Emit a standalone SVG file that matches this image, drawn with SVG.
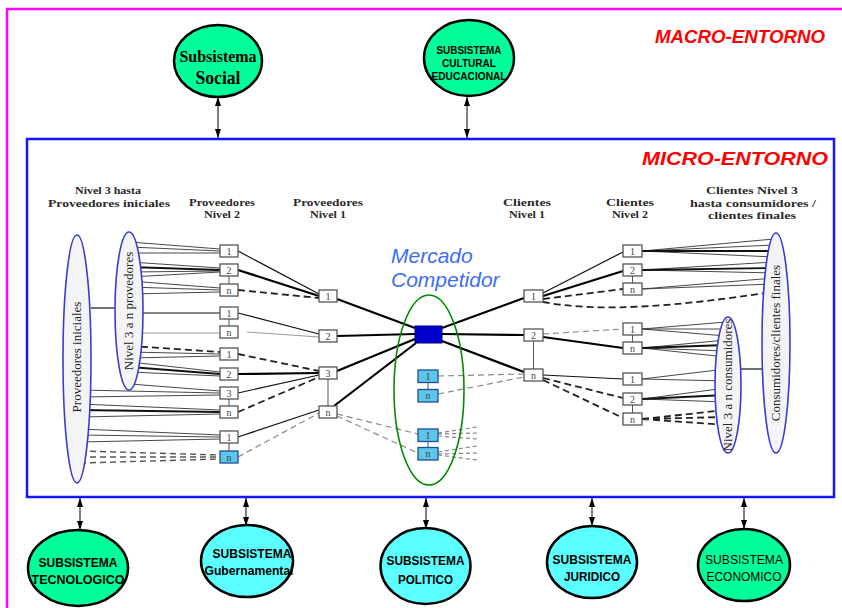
<svg xmlns="http://www.w3.org/2000/svg" width="842" height="608" viewBox="0 0 842 608">
<defs>
  <marker id="ah" viewBox="0 0 9 6" refX="9" refY="3" markerWidth="9" markerHeight="6" markerUnits="userSpaceOnUse" orient="auto-start-reverse" preserveAspectRatio="none">
    <path d="M0,0 L9,3 L0,6 z" fill="#000"/>
  </marker>
  <style>
    .bg { fill:#00ff99; stroke:#000; stroke-width:2.5; }
    .bc { fill:#5cffff; stroke:#000; stroke-width:2.5; }
    .bt { font-family:"Liberation Sans", Arial, sans-serif; font-weight:bold; text-anchor:middle; fill:#000; }
    .bs { font-family:"Liberation Serif", "Times New Roman", serif; font-weight:bold; text-anchor:middle; fill:#000; }
    .arr { stroke:#000; stroke-width:1; fill:none; marker-start:url(#ah); marker-end:url(#ah); }
    .hd { font-family:"Liberation Serif", "Times New Roman", serif; font-weight:bold; font-size:11px; text-anchor:middle; fill:#2a2a2a; }
    .el { fill:#f4f4f7; stroke:#3b3bd0; stroke-width:1.6; }
    .et { font-family:"Liberation Serif", "Times New Roman", serif; font-size:13px; text-anchor:middle; fill:#222; }
    .nd { fill:#fff; stroke:#555; stroke-width:1.3; }
    .nb { fill:#5cc6ec; stroke:#1f4f8f; stroke-width:1.3; }
    .nt { font-family:"Liberation Serif", "Times New Roman", serif; font-size:10px; text-anchor:middle; fill:#444; }
    .f { stroke:#333; stroke-width:0.9; fill:none; }
    .fk { stroke:#111; stroke-width:1.8; fill:none; }
    .s { stroke:#111; stroke-width:1.2; fill:none; }
    .k { stroke:#000; stroke-width:2.2; fill:none; }
    .g { stroke:#999; stroke-width:1; fill:none; }
    .d { stroke:#222; stroke-width:1.8; stroke-dasharray:7 4; fill:none; }
    .dm { stroke:#555; stroke-width:1.4; stroke-dasharray:6 4; fill:none; }
    .dg { stroke:#888; stroke-width:1.2; stroke-dasharray:6 4; fill:none; }
    .ds { stroke:#888; stroke-width:1.2; stroke-dasharray:4 3; fill:none; }
    .v { stroke:#555; stroke-width:1; }
  </style>
</defs>
<rect width="842" height="608" fill="#fff"/>

<!-- environment frames -->
<g id="macro-entorno">
  <path d="M7,612 L7,9 L850,9" fill="none" stroke="#ff00ff" stroke-width="2.5"/>
  <text x="740" y="43" font-family="Liberation Sans, Arial, sans-serif" font-weight="bold" font-style="italic" font-size="18" fill="#ff0000" text-anchor="middle" textLength="170" lengthAdjust="spacingAndGlyphs">MACRO-ENTORNO</text>
</g>
<g id="micro-entorno">
  <rect x="27" y="139" width="807" height="358" fill="none" stroke="#1414ff" stroke-width="2.5"/>
  <text x="735" y="165" font-family="Liberation Sans, Arial, sans-serif" font-weight="bold" font-style="italic" font-size="18" fill="#ff0000" text-anchor="middle" textLength="186" lengthAdjust="spacingAndGlyphs">MICRO-ENTORNO</text>
</g>

<!-- column headings -->
<g id="headings">
  <text class="hd" x="108" y="194" textLength="66" lengthAdjust="spacingAndGlyphs">Nivel 3 hasta</text>
  <text class="hd" x="109" y="206.5" textLength="122" lengthAdjust="spacingAndGlyphs">Proveedores iniciales</text>
  <text class="hd" x="222" y="205.5" textLength="66" lengthAdjust="spacingAndGlyphs">Proveedores</text>
  <text class="hd" x="222" y="218" textLength="36" lengthAdjust="spacingAndGlyphs">Nivel 2</text>
  <text class="hd" x="328" y="205.5" textLength="70" lengthAdjust="spacingAndGlyphs">Proveedores</text>
  <text class="hd" x="328" y="218" textLength="36" lengthAdjust="spacingAndGlyphs">Nivel 1</text>
  <text class="hd" x="527" y="205.5" textLength="48" lengthAdjust="spacingAndGlyphs">Clientes</text>
  <text class="hd" x="527" y="218" textLength="36" lengthAdjust="spacingAndGlyphs">Nivel 1</text>
  <text class="hd" x="630" y="205.5" textLength="48" lengthAdjust="spacingAndGlyphs">Clientes</text>
  <text class="hd" x="630" y="218" textLength="36" lengthAdjust="spacingAndGlyphs">Nivel 2</text>
  <text class="hd" x="752" y="194" textLength="92" lengthAdjust="spacingAndGlyphs">Clientes Nivel 3</text>
  <text class="hd" x="753" y="206.5" textLength="126" lengthAdjust="spacingAndGlyphs">hasta consumidores /</text>
  <text class="hd" x="752" y="219" textLength="88" lengthAdjust="spacingAndGlyphs">clientes finales</text>
</g>

<g id="mercado-label">
  <text x="391" y="263" font-family="Liberation Sans, Arial, sans-serif" font-style="italic" font-size="21" fill="#3d6df2">Mercado</text>
  <text x="391" y="287" font-family="Liberation Sans, Arial, sans-serif" font-style="italic" font-size="21" fill="#3d6df2">Competidor</text>
</g>

<!-- connectors -->
<g id="connectors">
  <!-- subsystem links -->
  <line class="arr" x1="218" y1="97" x2="218" y2="138"/>
  <line class="arr" x1="467" y1="97" x2="467" y2="138"/>
  <line class="arr" x1="80" y1="498" x2="80" y2="530"/>
  <line class="arr" x1="246" y1="498" x2="246" y2="526"/>
  <line class="arr" x1="426" y1="498" x2="426" y2="529"/>
  <line class="arr" x1="592" y1="498" x2="592" y2="526"/>
  <line class="arr" x1="744" y1="498" x2="744" y2="529"/>

  <!-- initial suppliers to level 2 -->
  <path class="f" d="M130,242 L220,249 M130,247 L220,251 M130,253 L220,253"/>
  <path class="f" d="M130,262 L220,268 M130,272 L220,271 M130,277 L220,272"/>
  <path class="fk" d="M130,267 L220,270"/>
  <path class="f" d="M130,281 L220,288 M130,287 L220,290 M130,294 L220,292"/>
  <path class="s" d="M130,313 L220,313"/>
  <path class="g" d="M130,333 L220,333"/>
  <path class="d" d="M130,346 L220,352"/>
  <path class="f" d="M130,352 L220,354 M130,358 L220,356"/>
  <path class="f" d="M130,362 L220,372 M130,372 L220,376"/>
  <path class="fk" d="M130,367 L220,374"/>
  <path class="f" d="M130,384 L220,391 M80,390 L220,393 M80,397 L220,395"/>
  <path class="f" d="M80,404 L220,410 M80,417 L220,414"/>
  <path class="fk" d="M80,410 L220,412"/>
  <path class="f" d="M80,429 L220,435 M80,435 L220,437 M80,442 L220,439"/>
  <path class="dm" d="M80,451 L220,455 M80,457 L220,457 M80,463 L220,459"/>
  <path class="s" d="M91,308 L115,308"/>

  <!-- level 2 to level 1 suppliers -->
  <path class="s" d="M238,251 L319,294"/>
  <path class="k" d="M238,270 L319,296"/>
  <path class="d" d="M238,290 L319,298"/>
  <path class="s" d="M238,313 L319,334"/>
  <path class="g" d="M247,332 L319,337"/>
  <path class="d" d="M238,354 L319,371"/>
  <path class="k" d="M238,374 L319,373"/>
  <path class="s" d="M238,393 L319,375"/>
  <path class="d" d="M238,412 L319,377"/>
  <path class="s" d="M238,437 L319,410"/>
  <path class="dg" d="M238,457 L319,413"/>

  <!-- level 1 suppliers to the company -->
  <path class="k" d="M337,299 L415,328"/>
  <path class="k" d="M337,336 L415,334" stroke-width="2.6"/>
  <path class="k" d="M337,371 L415,339"/>
  <path class="k" d="M334,406 L416,343"/>

  <!-- competitor links -->
  <path class="dg" d="M337,414 L418,434 M337,416 L418,453"/>
  <path class="dg" d="M438,376 L524,374 M438,394 L524,377"/>
  <path class="ds" d="M438,433 L477,427 M438,434 L477,433 M438,436 L477,439"/>
  <path class="ds" d="M438,452 L477,446 M438,454 L477,453 M438,455 L477,460"/>

  <!-- company to level 1 clients -->
  <path class="k" d="M442,328 L524,298"/>
  <path class="k" d="M442,334 L524,335" stroke-width="4"/>
  <path class="k" d="M442,341 L524,372"/>

  <!-- level 1 to level 2 clients -->
  <path class="s" d="M543,293 L623,252"/>
  <path class="k" d="M543,296 L623,271" stroke-width="1.8"/>
  <path class="d" d="M543,299 L623,289"/>
  <path class="d" d="M543,302 C600,313 680,306 772,292"/>
  <path class="dg" d="M543,334 L623,329"/>
  <path class="k" d="M543,337 L623,348" stroke-width="1.8"/>
  <path class="s" d="M543,375 L623,379"/>
  <path class="d" d="M543,378 L623,398 M543,380 L623,418"/>

  <!-- level 2 clients to final consumers -->
  <path class="f" d="M642,251 L774,239 M642,251 L774,245 M642,251 L774,257"/>
  <path class="fk" d="M642,251 L774,251"/>
  <path class="f" d="M642,270 L774,262 M642,270 L774,273"/>
  <path class="fk" d="M642,270 L774,268"/>
  <path class="f" d="M642,289 L774,278 M642,289 L774,284"/>
  <path class="f" d="M642,329 L726,322 M642,329 L726,329 M642,329 L726,336"/>
  <path class="f" d="M642,348 L726,340 M642,348 L726,351 M642,348 L726,357"/>
  <path class="fk" d="M642,348 L726,345"/>
  <path class="f" d="M642,379 L726,369 M642,379 L726,381"/>
  <path class="f" d="M642,399 L726,388 M642,399 L726,402"/>
  <path class="fk" d="M642,399 L726,395"/>
  <path class="d" d="M642,419 L726,410 M642,419 L726,417 M642,419 L726,425"/>
  <path class="s" d="M741,369 L762,369"/>

  <!-- links inside node stacks -->
  <path class="v" d="M229,276 L229,284 M229,319 L229,326 M229,399 L229,406 M328,379 L328,406 M533.5,341 L533.5,369 M632.5,276 L632.5,283 M632.5,335 L632.5,342 M632.5,405 L632.5,413 M428,382.5 L428,389.5 M428,441.5 L428,447.5"/>
  <path d="M229,443 L229,451" stroke="#a04848" stroke-width="1.2"/>
</g>

<!-- stakeholder groups -->
<g id="proveedores-iniciales">
  <ellipse class="el" cx="77" cy="359" rx="14" ry="124"/>
  <text class="et" transform="translate(81,357) rotate(-90)">Proveedores iniciales</text>
</g>
<g id="nivel3-proveedores">
  <ellipse class="el" cx="129" cy="311" rx="14" ry="79"/>
  <text class="et" transform="translate(133,311) rotate(-90)">Nivel 3 a n provedores</text>
</g>
<g id="consumidores-finales">
  <ellipse class="el" cx="776" cy="343" rx="14" ry="110"/>
  <text class="et" font-size="12.5" transform="translate(780,343) rotate(-90)">Consumidores/clientes finales</text>
</g>
<g id="nivel3-consumidores">
  <ellipse class="el" cx="728" cy="385" rx="13" ry="68"/>
  <text class="et" font-size="12" transform="translate(732,385) rotate(-90)">Nivel 3 a n consumidores</text>
</g>

<g id="mercado-competidor">
  <ellipse cx="429" cy="390" rx="35" ry="95" fill="none" stroke="#008a00" stroke-width="1.6"/>
</g>

<!-- suppliers, level 2 -->
<g id="p2-1a"><rect class="nd" x="220" y="245" width="18" height="12"/><text class="nt" x="229" y="254.5">1</text></g>
<g id="p2-2a"><rect class="nd" x="220" y="264" width="18" height="12"/><text class="nt" x="229" y="273.5">2</text></g>
<g id="p2-na"><rect class="nd" x="220" y="284" width="18" height="12"/><text class="nt" x="229" y="293.5">n</text></g>
<g id="p2-1b"><rect class="nd" x="220" y="307" width="18" height="12"/><text class="nt" x="229" y="316.5">1</text></g>
<g id="p2-nb"><rect class="nd" x="220" y="326" width="18" height="12"/><text class="nt" x="229" y="335.5">n</text></g>
<g id="p2-1c"><rect class="nd" x="220" y="348" width="18" height="12"/><text class="nt" x="229" y="357.5">1</text></g>
<g id="p2-2c"><rect class="nd" x="220" y="368" width="18" height="12"/><text class="nt" x="229" y="377.5">2</text></g>
<g id="p2-3c"><rect class="nd" x="220" y="387" width="18" height="12"/><text class="nt" x="229" y="396.5">3</text></g>
<g id="p2-nc"><rect class="nd" x="220" y="406" width="18" height="12"/><text class="nt" x="229" y="415.5">n</text></g>
<g id="p2-1d"><rect class="nd" x="220" y="431" width="18" height="12"/><text class="nt" x="229" y="440.5">1</text></g>
<g id="p2-nd"><rect class="nb" x="220" y="451" width="18" height="12"/><text class="nt" x="229" y="460.5">n</text></g>

<!-- suppliers, level 1 -->
<g id="p1-1"><rect class="nd" x="319" y="290" width="18" height="12"/><text class="nt" x="328" y="299.5">1</text></g>
<g id="p1-2"><rect class="nd" x="319" y="330" width="18" height="12"/><text class="nt" x="328" y="339.5">2</text></g>
<g id="p1-3"><rect class="nd" x="319" y="367" width="18" height="12"/><text class="nt" x="328" y="376.5">3</text></g>
<g id="p1-n"><rect class="nd" x="319" y="406" width="18" height="12"/><text class="nt" x="328" y="415.5">n</text></g>

<!-- focal company -->
<g id="empresa"><rect x="415" y="326" width="27" height="17" fill="#0000cc" stroke="#00007a" stroke-width="1"/></g>

<!-- competitors -->
<g id="m-1a"><rect class="nb" x="418" y="370" width="20" height="12.5"/><text class="nt" x="428" y="379.5">1</text></g>
<g id="m-na"><rect class="nb" x="418" y="389.5" width="20" height="12.5"/><text class="nt" x="428" y="399">n</text></g>
<g id="m-1b"><rect class="nb" x="418" y="429" width="20" height="12.5"/><text class="nt" x="428" y="438.5">1</text></g>
<g id="m-nb"><rect class="nb" x="418" y="447.5" width="20" height="12.5"/><text class="nt" x="428" y="457">n</text></g>

<!-- clients, level 1 -->
<g id="c1-1"><rect class="nd" x="524" y="290" width="19" height="12"/><text class="nt" x="533.5" y="299.5">1</text></g>
<g id="c1-2"><rect class="nd" x="524" y="329" width="19" height="12"/><text class="nt" x="533.5" y="338.5">2</text></g>
<g id="c1-n"><rect class="nd" x="524" y="369" width="19" height="12"/><text class="nt" x="533.5" y="378.5">n</text></g>

<!-- clients, level 2 -->
<g id="c2-1a"><rect class="nd" x="623" y="245" width="19" height="12"/><text class="nt" x="632.5" y="254.5">1</text></g>
<g id="c2-2a"><rect class="nd" x="623" y="264" width="19" height="12"/><text class="nt" x="632.5" y="273.5">2</text></g>
<g id="c2-na"><rect class="nd" x="623" y="283" width="19" height="12"/><text class="nt" x="632.5" y="292.5">n</text></g>
<g id="c2-1b"><rect class="nd" x="623" y="323" width="19" height="12"/><text class="nt" x="632.5" y="332.5">1</text></g>
<g id="c2-nb"><rect class="nd" x="623" y="342" width="19" height="12"/><text class="nt" x="632.5" y="351.5">n</text></g>
<g id="c2-1c"><rect class="nd" x="623" y="373" width="19" height="12"/><text class="nt" x="632.5" y="382.5">1</text></g>
<g id="c2-2c"><rect class="nd" x="623" y="393" width="19" height="12"/><text class="nt" x="632.5" y="402.5">2</text></g>
<g id="c2-nc"><rect class="nd" x="623" y="413" width="19" height="12"/><text class="nt" x="632.5" y="422.5">n</text></g>

<!-- subsystems of the macro environment -->
<g id="subsistema-social">
  <ellipse class="bg" cx="218" cy="61" rx="44" ry="36"/>
  <text class="bs" x="218" y="62" font-size="17" textLength="77" lengthAdjust="spacingAndGlyphs">Subsistema</text>
  <text class="bs" x="218" y="84" font-size="19" textLength="45" lengthAdjust="spacingAndGlyphs">Social</text>
</g>
<g id="subsistema-cultural">
  <ellipse class="bg" cx="469" cy="58" rx="45" ry="38"/>
  <text class="bt" x="469" y="54" font-size="10.5" textLength="65" lengthAdjust="spacingAndGlyphs">SUBSISTEMA</text>
  <text class="bt" x="469" y="67" font-size="10.5" textLength="54" lengthAdjust="spacingAndGlyphs">CULTURAL</text>
  <text class="bt" x="469" y="80" font-size="10.5" textLength="75" lengthAdjust="spacingAndGlyphs">EDUCACIONAL</text>
</g>
<g id="subsistema-tecnologico">
  <ellipse class="bg" cx="78" cy="568" rx="50" ry="38"/>
  <text class="bt" x="78" y="567" font-size="13" textLength="79" lengthAdjust="spacingAndGlyphs">SUBSISTEMA</text>
  <text class="bt" x="78" y="584" font-size="13" textLength="93" lengthAdjust="spacingAndGlyphs">TECNOLOGICO</text>
</g>
<g id="subsistema-gubernamental">
  <ellipse class="bc" cx="247" cy="561" rx="46" ry="36"/>
  <text class="bt" x="252" y="558" font-size="13" textLength="79" lengthAdjust="spacingAndGlyphs">SUBSISTEMA</text>
  <text class="bt" x="249" y="575" font-size="13" textLength="89" lengthAdjust="spacingAndGlyphs">Gubernamental</text>
</g>
<g id="subsistema-politico">
  <ellipse class="bc" cx="425.5" cy="566" rx="45" ry="38"/>
  <text class="bt" x="425.5" y="565" font-size="13" textLength="78" lengthAdjust="spacingAndGlyphs">SUBSISTEMA</text>
  <text class="bt" x="425.5" y="584" font-size="13" textLength="55" lengthAdjust="spacingAndGlyphs">POLITICO</text>
</g>
<g id="subsistema-juridico">
  <ellipse class="bc" cx="592" cy="562" rx="45" ry="36"/>
  <text class="bt" x="592" y="564" font-size="13" textLength="79" lengthAdjust="spacingAndGlyphs">SUBSISTEMA</text>
  <text class="bt" x="592" y="581" font-size="13" textLength="56" lengthAdjust="spacingAndGlyphs">JURIDICO</text>
</g>
<g id="subsistema-economico">
  <ellipse class="bg" cx="744" cy="565" rx="46" ry="36"/>
  <text class="bt" x="744" y="564" font-size="13" textLength="78" lengthAdjust="spacingAndGlyphs" style="font-weight:normal">SUBSISTEMA</text>
  <text class="bt" x="744" y="581" font-size="13" textLength="75" lengthAdjust="spacingAndGlyphs" style="font-weight:normal">ECONOMICO</text>
</g>
</svg>
